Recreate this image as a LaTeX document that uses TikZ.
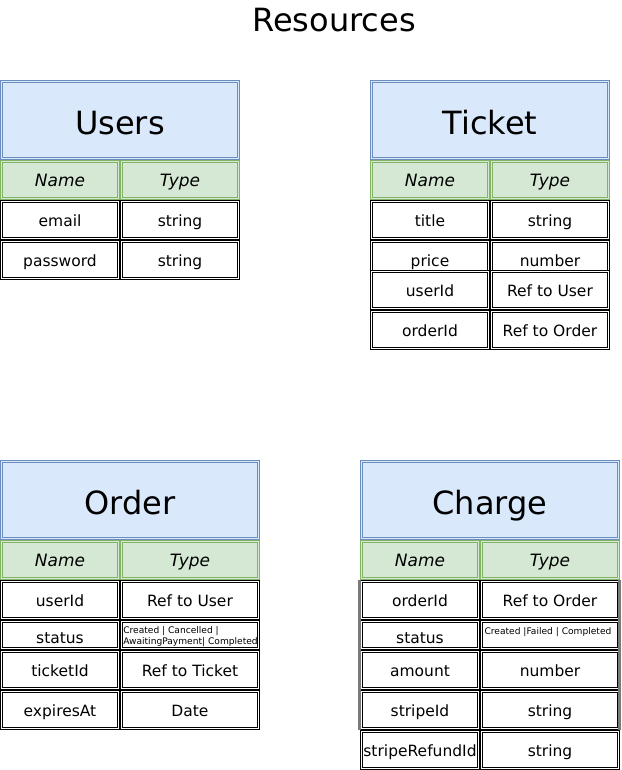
\documentclass[tikz,border=0pt]{standalone}
\usepackage{fontspec}
\setmainfont{DejaVu Sans}
\usepackage{tikz}
\definecolor{hblue}{HTML}{DAE8FC}
\definecolor{hblueline}{HTML}{6C8EBF}
\definecolor{hgreen}{HTML}{D5E8D4}
\definecolor{hgreenline}{HTML}{82B366}
\definecolor{edgegray}{HTML}{7A7A7A}
\usetikzlibrary{positioning}

\begin{document}
\begin{tikzpicture}[x=1pt, y=-1pt]
    \tikzset{box/.style={
      rectangle,
      draw=#1,
      line width=0.9pt,
      inner sep=0pt,
      text depth=0pt,
      path picture={
        \draw[#1, line width=0.9pt]
        ([xshift=2.2pt, yshift=-2.2pt]path picture bounding box.north west)
        rectangle ([xshift=-2.2pt, yshift=2.2pt]path picture bounding box.south east);}},
      hd/.style={
      box=hblueline,
      fill=hblue,
      minimum height=79pt,
      text height=29pt,
      font=\fontsize{32}{38}\selectfont},
      col/.style={
      box=hgreenline,
      fill=hgreen,
      minimum height=39pt,
      text height=12pt,
      font=\fontsize{17}{20}\selectfont\itshape},
      cell/.style={
      box=black,
      fill=white,
      minimum height=39pt,
      text height=12pt,
      font=\fontsize{15.5}{18}\selectfont},
      short/.style={
      minimum height=29pt,
      text height=16pt},
      small/.style={
      inner sep=0pt,
      font=\fontsize{9.1}{11}\selectfont}}
    \useasboundingbox (0, 0) rectangle (621, 770);
    \node at (334, 20) [font=\fontsize{32}{38}\selectfont] (title) {Resources};
    % Users
    \node[hd, minimum width=239pt] at (120, 120) (u) {Users};
    \node[col, minimum width=119pt] at (60, 180) (un) {Name};
    \node[col, minimum width=119pt] at (180, 180) (ut) {Type};
    \node[cell, minimum width=119pt] at (60, 220) (u1) {email};
    \node[cell, minimum width=119pt] at (180, 220) (u1t) {string};
    \node[cell, minimum width=119pt] at (60, 260) (u2) {password};
    \node[cell, minimum width=119pt] at (180, 260) (u2t) {string};
    % Ticket
    \node[hd, minimum width=239pt] at (490, 120) (t) {Ticket};
    \node[col, minimum width=119pt] at (430, 180) (tn) {Name};
    \node[col, minimum width=119pt] at (550, 180) (tt) {Type};
    \node[cell, minimum width=119pt] at (430, 220) (t1) {title};
    \node[cell, minimum width=119pt] at (550, 220) (t1t) {string};
    \node[cell, minimum width=119pt] at (430, 260) (t2) {price};
    \node[cell, minimum width=119pt] at (550, 260) (t2t) {number};
    \node[cell, minimum width=119pt] at (430, 290) (t3) {userId};
    \node[cell, minimum width=119pt] at (550, 290) (t3t) {Ref to User};
    \node[cell, minimum width=119pt] at (430, 330) (t4) {orderId};
    \node[cell, minimum width=119pt] at (550, 330) (t4t) {Ref to Order};
    % Order
    \node[hd, minimum width=259pt] at (130, 500) (o) {Order};
    \node[col, minimum width=119pt] at (60, 560) (on) {Name};
    \node[col, minimum width=139pt] at (190, 560) (ot) {Type};
    \node[cell, minimum width=119pt] at (60, 600) (o1) {userId};
    \node[cell, minimum width=139pt] at (190, 600) (o1t) {Ref to User};
    \node[cell, short, minimum width=119pt] at (60, 635) (o2) {status};
    \node[cell, short, minimum width=139pt] at (190, 635) (o2t) {};
    \node[small, align=left] at (190.5, 637) (o2s) {Created | Cancelled |\\AwaitingPayment| Completed};
    \node[cell, minimum width=119pt] at (60, 670) (o3) {ticketId};
    \node[cell, minimum width=139pt] at (190, 670) (o3t) {Ref to Ticket};
    \node[cell, minimum width=119pt] at (60, 710) (o4) {expiresAt};
    \node[cell, minimum width=139pt] at (190, 710) (o4t) {Date};
    % Charge
    \node[hd, minimum width=259pt] at (490, 500) (c) {Charge};
    \node[col, minimum width=119pt] at (420, 560) (cn) {Name};
    \node[col, minimum width=139pt] at (550, 560) (ct) {Type};
    \node[cell, minimum width=119pt] at (420, 600) (c1) {orderId};
    \node[cell, minimum width=139pt] at (550, 600) (c1t) {Ref to Order};
    \node[cell, short, minimum width=119pt] at (420, 635) (c2) {status};
    \node[cell, short, minimum width=139pt] at (550, 635) (c2t) {};
    \node[small] at (548, 632) (c2s) {Created |Failed | Completed};
    \node[cell, minimum width=119pt] at (420, 670) (c3) {amount};
    \node[cell, minimum width=139pt] at (550, 670) (c3t) {number};
    \node[cell, minimum width=119pt] at (420, 710) (c4) {stripeId};
    \node[cell, minimum width=139pt] at (550, 710) (c4t) {string};
    \node[cell, minimum width=119pt] at (420, 750) (c5) {stripeRefundId};
    \node[cell, minimum width=139pt] at (550, 750) (c5t) {string};
    \draw[edgegray, line width=3pt] (359, 580) -- (359, 730);
    \draw[edgegray, line width=3pt] (619.5, 580) -- (619.5, 730);
  \end{tikzpicture}
\end{document}
